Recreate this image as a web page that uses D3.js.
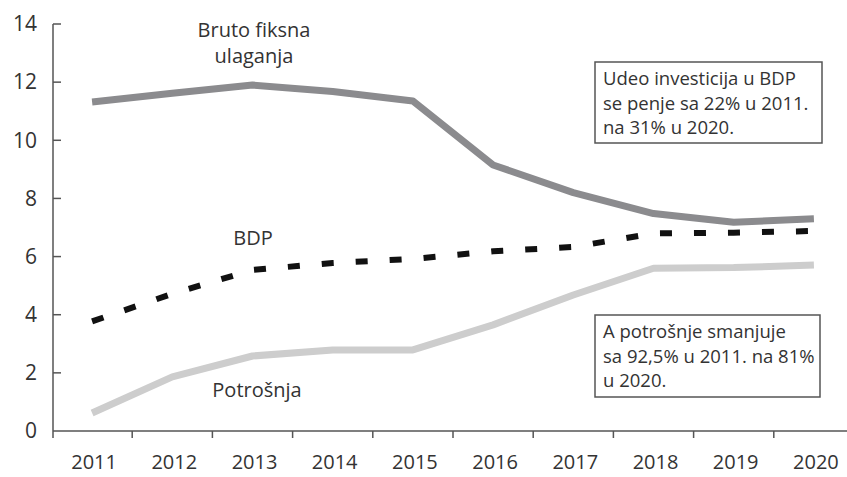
<!DOCTYPE html>
<html>
<head>
<meta charset="utf-8">
<script src="https://cdn.jsdelivr.net/npm/d3@7"></script>
<style>
  body { margin:0; background:#fff; }
  svg text { font-family: "Open Sans", "Noto Sans", sans-serif; fill:#333; }
</style>
</head>
<body>
<div id="graph"></div>
<script>
// data
var years = ["2011","2012","2013","2014","2015","2016","2017","2018","2019","2020"];
var bruto = [11.32, 11.62, 11.9, 11.68, 11.35, 9.15, 8.2, 7.48, 7.18, 7.3];
var bdp = [3.77, 4.72, 5.54, 5.78, 5.92, 6.18, 6.33, 6.8, 6.82, 6.88];
var potrosnja = [0.62, 1.86, 2.58, 2.79, 2.79, 3.65, 4.68, 5.6, 5.62, 5.71];
var yTicks = [0, 2, 4, 6, 8, 10, 12, 14];
var note1 = ["Udeo investicija u BDP", "se penje sa 22% u 2011.", "na 31% u 2020."];
var note2 = ["A potrošnje smanjuje", "sa 92,5% u 2011. na 81%", "u 2020."];

var svgwidth = 847, svgheight = 477;
var svg = d3.select("#graph").append("svg")
  .attr("width", svgwidth).attr("height", svgheight);

var x = d3.scaleBand().domain(years).range([52, 854]).paddingInner(0).paddingOuter(0);
var y = d3.scaleLinear().domain([0, 14]).range([431, 24]);
function xc(d){ return x(d) + x.bandwidth()/2; }

// x axis
var gx = svg.append("g").attr("transform", "translate(0,431)");
gx.append("line").attr("x1", 53).attr("x2", svgwidth).attr("y1", 0).attr("y2", 0)
  .attr("stroke", "#555").attr("stroke-width", 1.5);
gx.selectAll(".xt").data(years.slice(1)).enter().append("line")
  .attr("x1", function(d){ return x(d); }).attr("x2", function(d){ return x(d); })
  .attr("y1", 0).attr("y2", 7).attr("stroke", "#555").attr("stroke-width", 1.5);
gx.selectAll(".xl").data(years).enter().append("text")
  .attr("x", function(d){ return xc(d) + 2; }).attr("y", 38)
  .attr("text-anchor", "middle").style("font-size", "20px")
  .text(function(d){ return d; });

// y axis
var gy = svg.append("g").attr("transform", "translate(53,0)");
gy.append("line").attr("x1", 0).attr("x2", 0).attr("y1", y(14)).attr("y2", 438)
  .attr("stroke", "#555").attr("stroke-width", 1.5);
gy.selectAll(".yt").data(yTicks.slice(1)).enter().append("line")
  .attr("x1", 0).attr("x2", 8)
  .attr("y1", function(d){ return y(d); }).attr("y2", function(d){ return y(d); })
  .attr("stroke", "#555").attr("stroke-width", 1.5);
gy.selectAll(".yl").data(yTicks).enter().append("text")
  .attr("x", -16).attr("y", function(d){ return y(d); }).attr("dy", "0.35em")
  .attr("text-anchor", "end").style("font-size", "21px")
  .text(function(d){ return d; });

// lines
var line = d3.line().x(function(d, i){ return xc(years[i]); }).y(function(d){ return y(d); });

function tracer(da, strokeColor, strokeWidth, dash){
  var p = svg.append("path").datum(da)
    .attr("fill", "none")
    .attr("stroke", strokeColor)
    .attr("stroke-width", strokeWidth)
    .attr("stroke-linejoin", "round")
    .attr("d", line);
  if (dash) p.attr("stroke-dasharray", dash);
}
tracer(potrosnja, "#cdcdcd", 7);
tracer(bruto, "#8b8b8e", 7);
tracer(bdp, "#111", 6, "12,22");

// series labels
function label(lines, cx, by, size){
  var t = svg.append("text").attr("text-anchor", "middle").style("font-size", size + "px");
  lines.forEach(function(s, i){
    t.append("tspan").attr("x", cx).attr("y", by + i*26).text(s);
  });
}
label(["Bruto fiksna", "ulaganja"], 254, 37, 20);
label(["BDP"], 253, 245, 20);
label(["Potrošnja"], 257, 397, 20);

// note boxes
function noteBox(lines, bx, by, bw, bh){
  svg.append("rect").attr("x", bx).attr("y", by).attr("width", bw).attr("height", bh)
    .attr("fill", "#fff").attr("stroke", "#555").attr("stroke-width", 1.5);
  var t = svg.append("text").style("font-size", "18.5px");
  lines.forEach(function(s, i){
    t.append("tspan").attr("x", bx + 8).attr("y", by + 23 + i*24.5).text(s);
  });
}
noteBox(note1, 595, 62, 227, 81);
noteBox(note2, 595, 315, 225, 82);
</script>
</body>
</html>
